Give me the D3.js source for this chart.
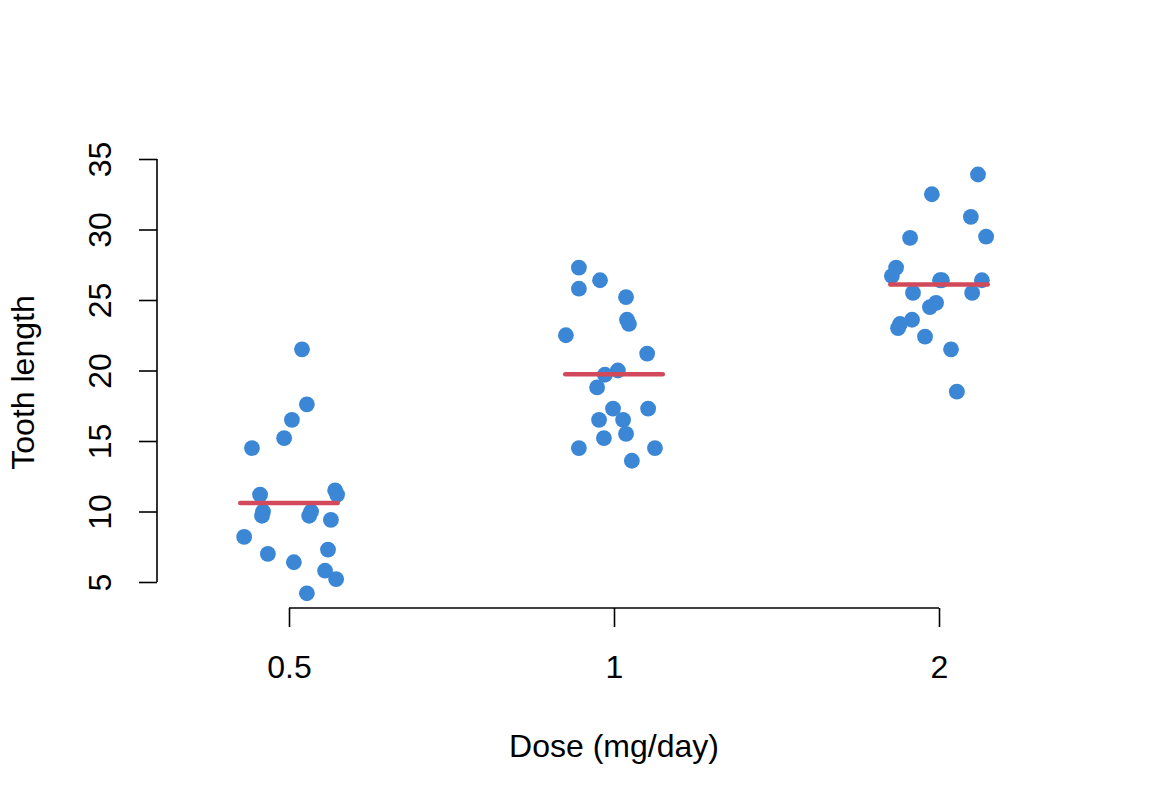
<!DOCTYPE html>
<html>
<head>
<meta charset="utf-8">
<script src="https://cdn.jsdelivr.net/npm/d3@7"></script>
<style>
  html, body { margin: 0; padding: 0; background: #fff; }
  svg { display: block; }
  text { font-family: "Liberation Sans", Arial, Helvetica, sans-serif; fill: #000; }
</style>
</head>
<body>
<svg id="chart" width="1152" height="806"></svg>
<script>
// ---- data ----
const doses = ["0.5", "1", "2"];
const yTicks = [5, 10, 15, 20, 25, 30, 35];

// tooth length values per dose group
const len05 = [21.5, 17.6, 16.5, 15.2, 14.5, 11.2, 11.5, 11.2, 10.0, 9.7, 10.0, 9.7, 9.4, 8.2, 7.0, 6.4, 7.3, 5.8, 5.2, 4.2];
const len1  = [27.3, 26.4, 25.8, 25.2, 23.6, 23.3, 22.5, 21.2, 20.0, 19.7, 18.8, 17.3, 17.3, 16.5, 16.5, 15.5, 15.2, 14.5, 14.5, 13.6];
const len2  = [33.9, 32.5, 30.9, 29.5, 29.4, 27.3, 26.7, 26.4, 26.4, 26.4, 25.5, 25.5, 24.8, 24.5, 23.6, 23.3, 23.0, 22.4, 21.5, 18.5];

// jittered group coordinate (group index 1..3 plus jitter)
const pos05 = [1.040, 1.055, 1.009, 0.985, 0.886, 0.911, 1.142, 1.148, 0.920, 0.917, 1.068, 1.062, 1.129, 0.862, 0.935, 1.015, 1.120, 1.111, 1.145, 1.055];
const pos1  = [1.892, 1.957, 1.892, 2.037, 2.040, 2.046, 1.852, 2.102, 2.012, 1.972, 1.948, 1.997, 2.105, 1.954, 2.028, 2.037, 1.969, 1.892, 2.126, 2.055];
const pos2  = [3.120, 2.978, 3.098, 3.145, 2.911, 2.868, 2.855, 3.003, 3.009, 3.132, 2.920, 3.102, 2.991, 2.972, 2.917, 2.880, 2.874, 2.957, 3.037, 3.055];

const groups = [
  { label: doses[0], idx: 1, values: len05, pos: pos05 },
  { label: doses[1], idx: 2, values: len1,  pos: pos1 },
  { label: doses[2], idx: 3, values: len2,  pos: pos2 }
];

// ---- layout ----
const svg = d3.select("#chart");
const fontSize = 32;
const pointColor = "#3b87d6";
const meanColor = "#d1495b";

const x = d3.scaleLinear().domain([1, 3]).range([289, 939]);
const y = d3.scaleLinear().domain([5, 35]).range([582, 159]);

// points
groups.forEach(g => {
  svg.append("g").selectAll("circle")
    .data(g.values.map((v, i) => ({ v, p: g.pos[i] })))
    .join("circle")
    .attr("cx", d => x(d.p))
    .attr("cy", d => y(d.v))
    .attr("r", 7.9)
    .attr("fill", pointColor);
});

// mean segments
svg.append("g").selectAll("line")
  .data(groups)
  .join("line")
  .attr("x1", g => x(g.idx - 0.15))
  .attr("x2", g => x(g.idx + 0.15))
  .attr("y1", g => y(d3.mean(g.values)))
  .attr("y2", g => y(d3.mean(g.values)))
  .attr("stroke", meanColor)
  .attr("stroke-width", 4.5)
  .attr("stroke-linecap", "round");

// y axis
const yAxis = svg.append("g")
  .attr("transform", "translate(157,0)")
  .call(d3.axisLeft(y).tickValues(yTicks).tickSize(18).tickFormat(d3.format("d")));
yAxis.selectAll("path, line").attr("stroke", "#000").attr("stroke-width", 1.6);
yAxis.select(".domain").attr("d", `M0,${y(5)}V${y(35)}`);
yAxis.selectAll("text")
  .attr("font-size", fontSize)
  .attr("font-family", "Liberation Sans, Arial, sans-serif")
  .attr("fill", "#000")
  .attr("x", null).attr("dy", null)
  .attr("text-anchor", "middle")
  .attr("transform", "translate(-46,0) rotate(-90)");

// x axis
const xAxis = svg.append("g")
  .attr("transform", "translate(0,608)")
  .call(d3.axisBottom(x).tickValues([1, 2, 3]).tickSize(19).tickFormat(i => doses[i - 1]));
xAxis.selectAll("path, line").attr("stroke", "#000").attr("stroke-width", 1.6);
xAxis.select(".domain").attr("d", `M${x(1)},0H${x(3)}`);
xAxis.selectAll("text")
  .attr("font-size", fontSize)
  .attr("font-family", "Liberation Sans, Arial, sans-serif")
  .attr("fill", "#000")
  .attr("y", 70).attr("dy", null);

// axis titles
svg.append("text")
  .attr("x", x(2)).attr("y", 757)
  .attr("text-anchor", "middle")
  .attr("font-size", fontSize)
  .text("Dose (mg/day)");

svg.append("text")
  .attr("transform", `translate(34,${(y(5) + y(35)) / 2 + 12}) rotate(-90)`)
  .attr("text-anchor", "middle")
  .attr("font-size", fontSize)
  .text("Tooth length");
</script>
</body>
</html>
